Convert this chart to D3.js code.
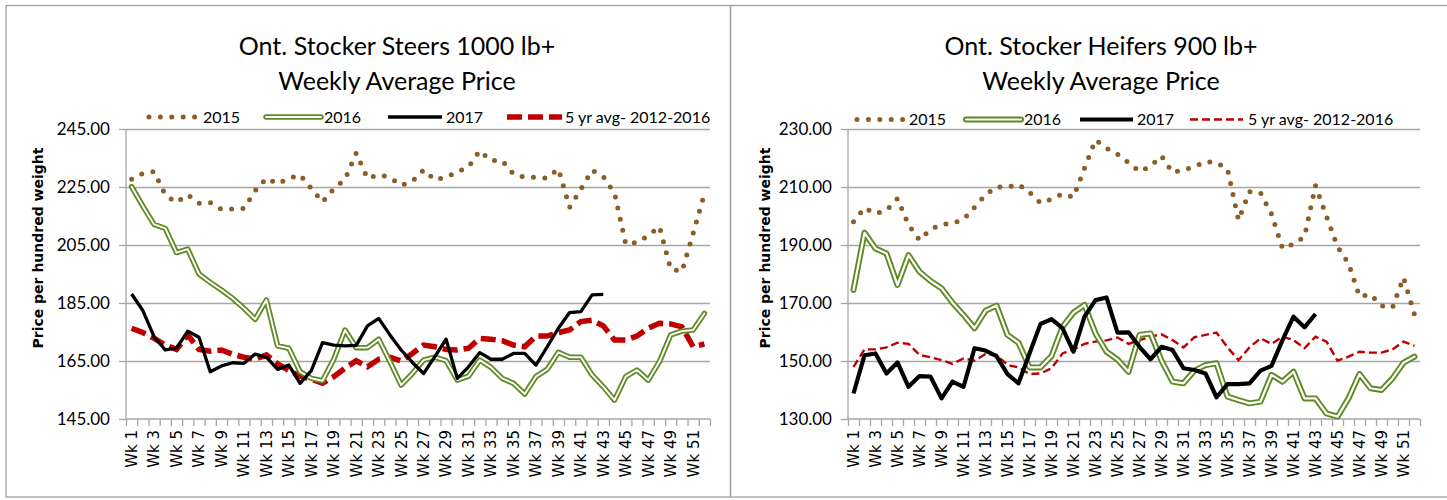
<!DOCTYPE html>
<html>
<head>
<meta charset="utf-8">
<script src="https://cdn.jsdelivr.net/npm/d3@7"></script>
<style>
  body { margin: 0; background: #fff; }
  svg text { font-family: Lato, "Liberation Sans", sans-serif; fill: #000; }
  svg text.wk, svg text.ytitle { font-family: "DejaVu Sans", Verdana, sans-serif; }
</style>
</head>
<body>
<script>
// week categories and series names
const weeks = Array.from({length: 52}, (_, i) => "Wk " + (i + 1));
const seriesNames = ["2015", "2016", "2017", "5 yr avg- 2012-2016"];

// Ont. Stocker Steers 1000 lb+
const steers2015 = [227.7, 229.7, 230.3, 222.2, 219.7, 222.3, 219.4, 219.6, 217.3, 217.4, 217.6, 223.7, 228.0,
  226.1, 228.0, 229.2, 224.5, 219.8, 224.4, 227.6, 236.7, 228.0, 229.2, 228.3, 225.6, 227.0, 230.9, 227.4,
  228.4, 230.2, 232.0, 237.5, 234.1, 234.1, 229.5, 228.4, 228.3, 228.1, 231.2, 218.0, 224.2, 230.8, 228.6,
  222.9, 205.3, 205.9, 208.2, 211.3, 196.7, 195.9, 209.0, 222.6];
const steers2016 = [225.1, 218.4, 212.1, 210.7, 202.4, 203.6, 195.0, 192.1, 189.5, 186.6, 183.2, 179.4, 186.0,
  170.2, 169.4, 161.3, 159.0, 158.2, 165.6, 175.7, 169.6, 169.6, 172.5, 164.8, 156.7, 160.7, 165.3, 166.3,
  165.1, 158.4, 159.8, 165.3, 162.8, 159.0, 157.3, 153.6, 159.6, 162.1, 168.0, 166.3, 166.3, 160.2, 156.1,
  151.5, 159.6, 161.9, 158.4, 164.8, 174.0, 175.3, 175.7, 181.4];
const steers2017 = [188.1, 182.4, 173.4, 168.8, 169.4, 175.3, 173.2, 161.3, 163.3, 164.4, 164.2, 167.4, 166.3,
  162.1, 163.6, 157.3, 161.7, 171.3, 170.5, 170.2, 170.4, 177.1, 179.7, 174.0, 168.8, 164.5, 160.7, 166.5,
  172.5, 159.0, 163.0, 167.9, 165.6, 165.6, 167.6, 167.6, 163.6, 169.9, 176.3, 181.7, 182.0, 187.8, 188.0];
const steers5yr = [176.3, 174.8, 172.8, 170.5, 169.0, 174.0, 169.0, 168.4, 168.8, 167.3, 166.3, 165.6, 167.1,
  164.0, 161.7, 159.8, 158.7, 157.3, 159.6, 162.5, 165.1, 163.0, 165.6, 166.3, 165.0, 167.6, 170.5, 169.9,
  169.0, 168.8, 169.4, 172.8, 172.5, 172.0, 170.5, 169.9, 173.6, 173.6, 174.8, 175.7, 178.6, 179.1, 177.1,
  172.2, 172.2, 173.6, 176.3, 178.0, 177.8, 176.8, 169.9, 170.9];
const steersTicks = [145, 165, 185, 205, 225, 245];

// Ont. Stocker Heifers 900 lb+
const heifers2015 = [198.0, 202.8, 200.8, 202.0, 206.0, 197.0, 191.7, 195.4, 197.1, 197.5, 198.8, 203.0, 207.3,
  210.1, 209.9, 210.9, 208.2, 204.5, 205.8, 207.6, 206.5, 216.5, 226.2, 223.4, 221.3, 218.4, 215.3, 217.2,
  220.7, 215.0, 215.9, 217.0, 218.8, 218.4, 216.2, 198.6, 208.4, 208.0, 200.7, 188.8, 190.3, 192.9, 210.5,
  199.9, 189.4, 183.7, 172.2, 173.0, 169.0, 168.4, 178.8, 166.0];
const heifers2016 = [174.5, 194.2, 188.8, 187.1, 176.2, 186.5, 180.8, 177.6, 175.1, 170.1, 165.9, 161.3, 167.3,
  169.1, 159.0, 156.3, 147.8, 147.8, 151.7, 161.8, 166.7, 169.3, 159.5, 153.2, 150.5, 146.3, 159.0, 159.5,
  150.1, 142.9, 142.3, 146.7, 148.6, 149.2, 137.7, 136.5, 135.4, 136.0, 145.2, 142.9, 146.3, 137.1, 137.1,
  131.9, 130.8, 137.1, 145.5, 140.6, 140.0, 144.0, 149.4, 151.5];
const heifers2017 = [138.8, 152.0, 152.6, 145.7, 149.5, 141.1, 144.8, 144.6, 137.1, 142.9, 141.1, 154.4, 153.6,
  151.7, 145.5, 142.3, 152.6, 162.8, 164.4, 161.3, 153.2, 165.3, 171.0, 171.9, 159.8, 159.9, 154.9, 150.6,
  154.9, 153.8, 147.5, 146.9, 145.7, 137.5, 142.0, 142.0, 142.3, 146.7, 148.3, 157.2, 165.3, 161.6, 166.2];
const heifers5yr = [148.0, 154.0, 154.0, 154.7, 156.3, 155.9, 152.1, 151.3, 150.3, 149.0, 150.9, 150.1, 152.4,
  152.1, 148.6, 147.8, 145.5, 145.7, 147.5, 152.6, 154.0, 155.9, 156.7, 157.1, 158.1, 155.9, 157.2, 158.4,
  159.2, 157.2, 154.7, 158.2, 159.0, 159.8, 154.7, 150.3, 154.7, 157.8, 155.9, 158.4, 157.2, 154.4, 158.4,
  156.7, 150.1, 151.5, 153.2, 152.9, 152.9, 154.0, 156.7, 155.2];
const heifersTicks = [130, 150, 170, 190, 210, 230];

const brown = "#8c5e27", green = "#5f8a23", red = "#c00000", grid = "#a6a6a6";

width = 1447;
height = 500;
svg = d3.select('body').append('svg').attr('width', width).attr('height', height);

// chart frames
svg.append('rect').attr('x', 6).attr('y', 5.5).attr('width', 724.5).attr('height', 491.5)
  .style('fill', 'none').style('stroke', '#a0a0a0').style('stroke-width', 1.3);
svg.append('rect').attr('x', 730.5).attr('y', 5.5).attr('width', 730).attr('height', 491.5)
  .style('fill', 'none').style('stroke', '#a0a0a0').style('stroke-width', 1.3);

createChart({
  title: ["Ont. Stocker Steers 1000 lb+", "Weekly Average Price"], titleX: 397,
  x0: 126, x1: 710, ticks: steersTicks,
  data: [steers2015, steers2016, steers2017, steers5yr],
  legendY: 117, legendX: [[149, 195, 203], [266, 321, 324], [388, 442, 446], [507, 562, 565]],
  ytitleX: 38, thick: false
});
createChart({
  title: ["Ont. Stocker Heifers 900 lb+", "Weekly Average Price"], titleX: 1101,
  x0: 848, x1: 1420, ticks: heifersTicks,
  data: [heifers2015, heifers2016, heifers2017, heifers5yr],
  legendY: 119.5, legendX: [[857, 903, 909], [966, 1021, 1024], [1080, 1133, 1137], [1190, 1243, 1248]],
  ytitleX: 765, thick: true
});

function drawSeries(g, d, i, thick) {
    // i: 0 dotted, 1 double line, 2 solid, 3 dashed
    if (i == 0) {
        g.append('path').attr('d', d).style('fill', 'none').style('stroke', brown)
          .style('stroke-width', 5).style('stroke-linecap', 'round').style('stroke-dasharray', '0 11.4');
    } else if (i == 1) {
        g.append('path').attr('d', d).style('fill', 'none').style('stroke', green)
          .style('stroke-width', thick ? 6 : 5.5).style('stroke-linejoin', 'round').style('stroke-linecap', 'round');
        g.append('path').attr('d', d).style('fill', 'none').style('stroke', '#fff')
          .style('stroke-width', thick ? 2.2 : 1.9).style('stroke-linejoin', 'round').style('stroke-linecap', 'round');
    } else if (i == 2) {
        g.append('path').attr('d', d).style('fill', 'none').style('stroke', '#000')
          .style('stroke-width', thick ? 4.2 : 3.3).style('stroke-linejoin', 'round');
    } else {
        g.append('path').attr('d', d).style('fill', 'none').style('stroke', red)
          .style('stroke-width', thick ? 2.4 : 5.5)
          .style('stroke-dasharray', thick ? '8 4' : '15 6');
    }
}

function createChart(c) {
    const top = 129, bottom = 419;
    const x = d3.scaleBand().domain(weeks).range([c.x0, c.x1]).padding(0);
    const xb = d3.scaleLinear().domain([0, weeks.length]).range([c.x0, c.x1]);
    const y = d3.scaleLinear().domain([c.ticks[0], c.ticks[c.ticks.length - 1]]).range([bottom, top]);
    const cx = w => x(w) + x.bandwidth() / 2;

    const g = svg.append('g');

    // gridlines
    const gridAxis = g.append('g').attr('transform', 'translate(' + c.x0 + ',0)')
        .call(d3.axisLeft(y).tickValues(c.ticks.slice(1)).tickSize(-(c.x1 - c.x0)).tickFormat(''));
    gridAxis.select('.domain').remove();
    gridAxis.selectAll('line').style('stroke', grid).style('stroke-width', 1.3);

    // y axis
    const yAxis = g.append('g').attr('transform', 'translate(' + c.x0 + ',0)')
        .call(d3.axisLeft(y).tickValues(c.ticks).tickSize(7).tickPadding(9).tickFormat(d => d.toFixed(2)));
    yAxis.select('.domain').attr('d', 'M0,' + top + 'V' + bottom).style('stroke', grid).style('stroke-width', 1.3);
    yAxis.selectAll('line').style('stroke', grid).style('stroke-width', 1.3);
    yAxis.attr('font-family', null).attr('font-size', null);
    yAxis.selectAll('text').style('font-size', '17px');

    // x axis, ticks between categories
    const xAxis = g.append('g').attr('transform', 'translate(0,' + bottom + ')')
        .call(d3.axisBottom(xb).tickValues(d3.range(weeks.length + 1)).tickSize(7).tickFormat(''));
    xAxis.select('.domain').attr('d', 'M' + c.x0 + ',0H' + c.x1).style('stroke', grid).style('stroke-width', 1.3);
    xAxis.selectAll('line').style('stroke', grid).style('stroke-width', 1.3);

    g.selectAll('.wk')
      .data(weeks.filter((w, i) => i % 2 == 0))
      .join('text')
      .attr('class', 'wk')
      .attr('transform', w => 'translate(' + cx(w) + ',' + (bottom + 11) + ') rotate(-90)')
      .attr('text-anchor', 'end')
      .attr('dy', '0.36em')
      .style('font-size', '15px')
      .text(w => w);

    // series
    const line = d3.line().x((v, i) => cx(weeks[i])).y(v => y(v));
    const order = [3, 0, 1, 2];
    order.forEach(i => drawSeries(g, line(c.data[i]), i, c.thick));

    // titles
    g.append('text').attr('x', c.titleX).attr('y', 55).attr('text-anchor', 'middle')
      .style('font-size', '25px').text(c.title[0]);
    g.append('text').attr('x', c.titleX).attr('y', 90).attr('text-anchor', 'middle')
      .style('font-size', '25px').text(c.title[1]);

    g.append('text').attr('class', 'ytitle')
      .attr('transform', 'translate(' + c.ytitleX + ',248) rotate(-90)')
      .attr('text-anchor', 'middle').attr('dy', '0.35em')
      .style('font-size', '14px').style('font-weight', 'bold').text('Price per hundred weight');

    // legend
    seriesNames.forEach((name, i) => {
        const p = c.legendX[i];
        drawSeries(g, 'M' + p[0] + ',' + c.legendY + 'H' + p[1], i, c.thick);
        g.append('text').attr('x', p[2]).attr('y', c.legendY).attr('dy', '0.35em')
          .style('font-size', '16px').text(name);
    });
}
</script>
</body>
</html>
